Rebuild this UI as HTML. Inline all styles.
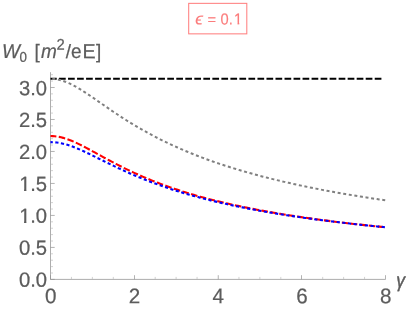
<!DOCTYPE html>
<html><head><meta charset="utf-8">
<style>
html,body{margin:0;padding:0;background:#fff;}
body{width:407px;height:310px;overflow:hidden;}
svg{display:block;will-change:transform;}
text{font-family:"Liberation Sans",sans-serif;}
</style></head>
<body>
<svg width="407" height="310" viewBox="0 0 407 310">
<rect width="407" height="310" fill="#fff"/>
<defs><clipPath id="one"><rect x="-1" y="-13" width="12" height="11.55"/><rect x="3.45" y="-1.6" width="1.8" height="1.9"/></clipPath><clipPath id="one2"><rect x="-1" y="-17" width="14" height="15.2"/><rect x="4.8" y="-2" width="2.35" height="2.4"/></clipPath></defs>
<!-- axes -->
<g stroke="#8a8a8a" stroke-width="0.7" fill="none">
<line x1="50.5" y1="279.4" x2="385.5" y2="279.4"/>
<line x1="50.5" y1="279.4" x2="50.5" y2="72.2"/>
</g>
<g stroke="#b4b4b4" stroke-width="0.6" fill="none">
<line x1="71.44" y1="279.4" x2="71.44" y2="276.9"/>
<line x1="92.38" y1="279.4" x2="92.38" y2="276.9"/>
<line x1="113.31" y1="279.4" x2="113.31" y2="276.9"/>
<line x1="155.19" y1="279.4" x2="155.19" y2="276.9"/>
<line x1="176.12" y1="279.4" x2="176.12" y2="276.9"/>
<line x1="197.06" y1="279.4" x2="197.06" y2="276.9"/>
<line x1="238.94" y1="279.4" x2="238.94" y2="276.9"/>
<line x1="259.88" y1="279.4" x2="259.88" y2="276.9"/>
<line x1="280.81" y1="279.4" x2="280.81" y2="276.9"/>
<line x1="322.69" y1="279.4" x2="322.69" y2="276.9"/>
<line x1="343.62" y1="279.4" x2="343.62" y2="276.9"/>
<line x1="364.56" y1="279.4" x2="364.56" y2="276.9"/>
<line x1="50.5" y1="273.00" x2="53.0" y2="273.00"/>
<line x1="50.5" y1="266.61" x2="53.0" y2="266.61"/>
<line x1="50.5" y1="260.21" x2="53.0" y2="260.21"/>
<line x1="50.5" y1="253.81" x2="53.0" y2="253.81"/>
<line x1="50.5" y1="241.02" x2="53.0" y2="241.02"/>
<line x1="50.5" y1="234.62" x2="53.0" y2="234.62"/>
<line x1="50.5" y1="228.22" x2="53.0" y2="228.22"/>
<line x1="50.5" y1="221.83" x2="53.0" y2="221.83"/>
<line x1="50.5" y1="209.03" x2="53.0" y2="209.03"/>
<line x1="50.5" y1="202.64" x2="53.0" y2="202.64"/>
<line x1="50.5" y1="196.24" x2="53.0" y2="196.24"/>
<line x1="50.5" y1="189.84" x2="53.0" y2="189.84"/>
<line x1="50.5" y1="177.05" x2="53.0" y2="177.05"/>
<line x1="50.5" y1="170.65" x2="53.0" y2="170.65"/>
<line x1="50.5" y1="164.25" x2="53.0" y2="164.25"/>
<line x1="50.5" y1="157.86" x2="53.0" y2="157.86"/>
<line x1="50.5" y1="145.06" x2="53.0" y2="145.06"/>
<line x1="50.5" y1="138.67" x2="53.0" y2="138.67"/>
<line x1="50.5" y1="132.27" x2="53.0" y2="132.27"/>
<line x1="50.5" y1="125.87" x2="53.0" y2="125.87"/>
<line x1="50.5" y1="113.08" x2="53.0" y2="113.08"/>
<line x1="50.5" y1="106.68" x2="53.0" y2="106.68"/>
<line x1="50.5" y1="100.28" x2="53.0" y2="100.28"/>
<line x1="50.5" y1="93.89" x2="53.0" y2="93.89"/>
<line x1="50.5" y1="81.09" x2="53.0" y2="81.09"/>
<line x1="50.5" y1="74.70" x2="53.0" y2="74.70"/>
</g>
<g stroke="#929292" stroke-width="0.7" fill="none">
<line x1="50.50" y1="279.4" x2="50.50" y2="275.2"/>
<line x1="134.50" y1="279.4" x2="134.50" y2="275.2"/>
<line x1="218.25" y1="279.4" x2="218.25" y2="275.2"/>
<line x1="301.50" y1="279.4" x2="301.50" y2="275.2"/>
<line x1="385.50" y1="279.4" x2="385.50" y2="275.2"/>
<line x1="50.5" y1="279.40" x2="54.7" y2="279.40"/>
<line x1="50.5" y1="247.41" x2="54.7" y2="247.41"/>
<line x1="50.5" y1="215.43" x2="54.7" y2="215.43"/>
<line x1="50.5" y1="183.44" x2="54.7" y2="183.44"/>
<line x1="50.5" y1="151.46" x2="54.7" y2="151.46"/>
<line x1="50.5" y1="119.47" x2="54.7" y2="119.47"/>
<line x1="50.5" y1="87.49" x2="54.7" y2="87.49"/>
</g>
<!-- curves -->
<path d="M50.5,78.85 L382,78.85" stroke="#000" stroke-width="2" stroke-dasharray="6.7 2.32" stroke-dashoffset="0.5" fill="none"/>
<path d="M50.50,78.80 L52.61,78.91 L54.71,79.09 L56.82,79.38 L58.93,79.79 L61.03,80.32 L63.14,80.95 L65.25,81.68 L67.36,82.52 L69.46,83.44 L71.57,84.44 L73.68,85.52 L75.78,86.67 L77.89,87.87 L80.00,89.14 L82.10,90.44 L84.21,91.79 L86.32,93.17 L88.42,94.58 L90.53,96.00 L92.64,97.45 L94.75,98.90 L96.85,100.36 L98.96,101.83 L101.07,103.30 L103.17,104.76 L105.28,106.22 L107.39,107.68 L109.49,109.12 L111.60,110.56 L113.71,111.98 L115.81,113.39 L117.92,114.79 L120.03,116.18 L122.14,117.54 L124.24,118.90 L126.35,120.23 L128.46,121.55 L130.56,122.85 L132.67,124.14 L134.78,125.41 L136.88,126.66 L138.99,127.89 L141.10,129.10 L143.20,130.30 L145.31,131.48 L147.42,132.65 L149.53,133.80 L151.63,134.93 L153.74,136.04 L155.85,137.14 L157.95,138.22 L160.06,139.28 L162.17,140.33 L164.27,141.36 L166.38,142.38 L168.49,143.38 L170.59,144.37 L172.70,145.34 L174.81,146.30 L176.92,147.25 L179.02,148.18 L181.13,149.11 L183.24,150.01 L185.34,150.91 L187.45,151.79 L189.56,152.66 L191.66,153.52 L193.77,154.36 L195.88,155.20 L197.98,156.02 L200.09,156.83 L202.20,157.62 L204.31,158.41 L206.41,159.19 L208.52,159.95 L210.63,160.71 L212.73,161.45 L214.84,162.19 L216.95,162.91 L219.05,163.63 L221.16,164.34 L223.27,165.03 L225.37,165.72 L227.48,166.40 L229.59,167.07 L231.69,167.73 L233.80,168.38 L235.91,169.03 L238.02,169.66 L240.12,170.29 L242.23,170.91 L244.34,171.53 L246.44,172.13 L248.55,172.73 L250.66,173.32 L252.76,173.90 L254.87,174.48 L256.98,175.05 L259.08,175.61 L261.19,176.17 L263.30,176.72 L265.41,177.26 L267.51,177.80 L269.62,178.33 L271.73,178.85 L273.83,179.37 L275.94,179.88 L278.05,180.39 L280.15,180.89 L282.26,181.39 L284.37,181.88 L286.47,182.36 L288.58,182.84 L290.69,183.32 L292.80,183.79 L294.90,184.25 L297.01,184.71 L299.12,185.16 L301.22,185.61 L303.33,186.06 L305.44,186.50 L307.54,186.93 L309.65,187.36 L311.76,187.79 L313.86,188.21 L315.97,188.63 L318.08,189.04 L320.19,189.45 L322.29,189.86 L324.40,190.26 L326.51,190.66 L328.61,191.05 L330.72,191.44 L332.83,191.83 L334.93,192.21 L337.04,192.59 L339.15,192.96 L341.25,193.33 L343.36,193.70 L345.47,194.07 L347.58,194.43 L349.68,194.79 L351.79,195.14 L353.90,195.48 L356.00,195.83 L358.11,196.17 L360.22,196.51 L362.32,196.84 L364.43,197.17 L366.54,197.50 L368.64,197.82 L370.75,198.15 L372.86,198.47 L374.97,198.78 L377.07,199.10 L379.18,199.41 L381.29,199.72 L383.39,200.02 L385.50,200.33" stroke="#808080" stroke-width="2" stroke-dasharray="3 2.646" stroke-dashoffset="3.876" fill="none"/>
<path d="M50.50,136.02 L52.61,136.10 L54.71,136.26 L56.82,136.51 L58.93,136.87 L61.03,137.32 L63.14,137.86 L65.25,138.48 L67.36,139.18 L69.46,139.95 L71.57,140.78 L73.68,141.67 L75.78,142.62 L77.89,143.60 L80.00,144.63 L82.10,145.69 L84.21,146.78 L86.32,147.88 L88.42,149.01 L90.53,150.15 L92.64,151.30 L94.75,152.45 L96.85,153.61 L98.96,154.77 L101.07,155.93 L103.17,157.08 L105.28,158.23 L107.39,159.37 L109.49,160.50 L111.60,161.62 L113.71,162.73 L115.81,163.83 L117.92,164.92 L120.03,165.99 L122.14,167.05 L124.24,168.10 L126.35,169.13 L128.46,170.15 L130.56,171.15 L132.67,172.14 L134.78,173.11 L136.88,174.07 L138.99,175.01 L141.10,175.94 L143.20,176.86 L145.31,177.75 L147.42,178.64 L149.53,179.51 L151.63,180.37 L153.74,181.21 L155.85,182.04 L157.95,182.85 L160.06,183.65 L162.17,184.44 L164.27,185.22 L166.38,185.98 L168.49,186.73 L170.59,187.47 L172.70,188.19 L174.81,188.91 L176.92,189.61 L179.02,190.30 L181.13,190.98 L183.24,191.65 L185.34,192.31 L187.45,192.96 L189.56,193.59 L191.66,194.22 L193.77,194.84 L195.88,195.45 L197.98,196.05 L200.09,196.64 L202.20,197.22 L204.31,197.79 L206.41,198.35 L208.52,198.91 L210.63,199.46 L212.73,200.00 L214.84,200.53 L216.95,201.05 L219.05,201.57 L221.16,202.07 L223.27,202.57 L225.37,203.07 L227.48,203.56 L229.59,204.04 L231.69,204.51 L233.80,204.98 L235.91,205.44 L238.02,205.89 L240.12,206.34 L242.23,206.78 L244.34,207.22 L246.44,207.65 L248.55,208.07 L250.66,208.49 L252.76,208.90 L254.87,209.31 L256.98,209.71 L259.08,210.11 L261.19,210.50 L263.30,210.89 L265.41,211.28 L267.51,211.65 L269.62,212.03 L271.73,212.40 L273.83,212.76 L275.94,213.12 L278.05,213.48 L280.15,213.83 L282.26,214.17 L284.37,214.52 L286.47,214.86 L288.58,215.19 L290.69,215.52 L292.80,215.85 L294.90,216.17 L297.01,216.49 L299.12,216.81 L301.22,217.12 L303.33,217.43 L305.44,217.74 L307.54,218.04 L309.65,218.34 L311.76,218.63 L313.86,218.93 L315.97,219.22 L318.08,219.50 L320.19,219.79 L322.29,220.07 L324.40,220.34 L326.51,220.62 L328.61,220.89 L330.72,221.16 L332.83,221.42 L334.93,221.69 L337.04,221.95 L339.15,222.21 L341.25,222.46 L343.36,222.71 L345.47,222.96 L347.58,223.21 L349.68,223.46 L351.79,223.70 L353.90,223.94 L356.00,224.18 L358.11,224.41 L360.22,224.65 L362.32,224.88 L364.43,225.11 L366.54,225.34 L368.64,225.56 L370.75,225.78 L372.86,226.00 L374.97,226.22 L377.07,226.44 L379.18,226.65 L381.29,226.87 L383.39,227.08 L385.50,227.29" stroke="#f00" stroke-width="2.1" stroke-dasharray="6.6 2.434" stroke-dashoffset="0.71" fill="none"/>
<path d="M50.50,142.10 L52.61,142.18 L54.71,142.31 L56.82,142.53 L58.93,142.84 L61.03,143.23 L63.14,143.70 L65.25,144.24 L67.36,144.85 L69.46,145.52 L71.57,146.25 L73.68,147.03 L75.78,147.86 L77.89,148.73 L80.00,149.63 L82.10,150.57 L84.21,151.53 L86.32,152.52 L88.42,153.52 L90.53,154.54 L92.64,155.57 L94.75,156.60 L96.85,157.64 L98.96,158.69 L101.07,159.73 L103.17,160.78 L105.28,161.82 L107.39,162.86 L109.49,163.89 L111.60,164.91 L113.71,165.92 L115.81,166.93 L117.92,167.93 L120.03,168.91 L122.14,169.89 L124.24,170.85 L126.35,171.80 L128.46,172.74 L130.56,173.67 L132.67,174.59 L134.78,175.49 L136.88,176.38 L138.99,177.26 L141.10,178.12 L143.20,178.97 L145.31,179.81 L147.42,180.64 L149.53,181.46 L151.63,182.26 L153.74,183.05 L155.85,183.83 L157.95,184.59 L160.06,185.35 L162.17,186.09 L164.27,186.82 L166.38,187.54 L168.49,188.25 L170.59,188.95 L172.70,189.63 L174.81,190.31 L176.92,190.98 L179.02,191.63 L181.13,192.28 L183.24,192.91 L185.34,193.54 L187.45,194.16 L189.56,194.76 L191.66,195.36 L193.77,195.95 L195.88,196.53 L197.98,197.10 L200.09,197.67 L202.20,198.22 L204.31,198.77 L206.41,199.31 L208.52,199.84 L210.63,200.36 L212.73,200.88 L214.84,201.39 L216.95,201.89 L219.05,202.39 L221.16,202.87 L223.27,203.35 L225.37,203.83 L227.48,204.30 L229.59,204.76 L231.69,205.21 L233.80,205.66 L235.91,206.10 L238.02,206.54 L240.12,206.97 L242.23,207.40 L244.34,207.82 L246.44,208.23 L248.55,208.64 L250.66,209.05 L252.76,209.44 L254.87,209.84 L256.98,210.23 L259.08,210.61 L261.19,210.99 L263.30,211.36 L265.41,211.73 L267.51,212.10 L269.62,212.46 L271.73,212.81 L273.83,213.17 L275.94,213.51 L278.05,213.86 L280.15,214.20 L282.26,214.53 L284.37,214.87 L286.47,215.19 L288.58,215.52 L290.69,215.84 L292.80,216.15 L294.90,216.47 L297.01,216.78 L299.12,217.08 L301.22,217.39 L303.33,217.69 L305.44,217.98 L307.54,218.28 L309.65,218.57 L311.76,218.85 L313.86,219.14 L315.97,219.42 L318.08,219.69 L320.19,219.97 L322.29,220.24 L324.40,220.51 L326.51,220.78 L328.61,221.04 L330.72,221.30 L332.83,221.56 L334.93,221.81 L337.04,222.07 L339.15,222.32 L341.25,222.57 L343.36,222.81 L345.47,223.05 L347.58,223.29 L349.68,223.53 L351.79,223.77 L353.90,224.00 L356.00,224.23 L358.11,224.46 L360.22,224.69 L362.32,224.92 L364.43,225.14 L366.54,225.36 L368.64,225.58 L370.75,225.80 L372.86,226.01 L374.97,226.22 L377.07,226.43 L379.18,226.64 L381.29,226.85 L383.39,227.06 L385.50,227.26" stroke="#00f" stroke-width="2.1" stroke-dasharray="3.2 2.46" stroke-dashoffset="0.85" fill="none"/>
<!-- labels -->
<g fill="#5c5c5c" stroke="#5c5c5c" stroke-width="0.22">
<text transform="translate(47.00,286.75) rotate(0.03) scale(1.0,1.02)" font-size="20.2px" text-anchor="end">0.0</text>
<text transform="translate(47.00,254.81) rotate(0.03) scale(1.0,1.02)" font-size="20.2px" text-anchor="end">0.5</text>
<text transform="translate(47.00,222.88) rotate(0.03) scale(1.0,1.02)" font-size="20.2px" text-anchor="end">.0</text>
<text transform="translate(19.25,222.88) rotate(0.03) scale(1.0,1.02)" font-size="20.2px" clip-path="url(#one2)">1</text>
<text transform="translate(47.00,190.94) rotate(0.03) scale(1.0,1.02)" font-size="20.2px" text-anchor="end">.5</text>
<text transform="translate(19.25,190.94) rotate(0.03) scale(1.0,1.02)" font-size="20.2px" clip-path="url(#one2)">1</text>
<text transform="translate(47.00,159.01) rotate(0.03) scale(1.0,1.02)" font-size="20.2px" text-anchor="end">2.0</text>
<text transform="translate(47.00,127.08) rotate(0.03) scale(1.0,1.02)" font-size="20.2px" text-anchor="end">2.5</text>
<text transform="translate(47.00,95.14) rotate(0.03) scale(1.0,1.02)" font-size="20.2px" text-anchor="end">3.0</text>
<text transform="translate(50.70,303.20) rotate(0.03) scale(1.0,1.03)" font-size="20.6px" text-anchor="middle">0</text>
<text transform="translate(134.45,303.20) rotate(0.03) scale(1.0,1.03)" font-size="20.6px" text-anchor="middle">2</text>
<text transform="translate(218.20,303.20) rotate(0.03) scale(1.0,1.03)" font-size="20.6px" text-anchor="middle">4</text>
<text transform="translate(301.95,303.20) rotate(0.03) scale(1.0,1.03)" font-size="20.6px" text-anchor="middle">6</text>
<text transform="translate(385.70,303.20) rotate(0.03) scale(1.0,1.03)" font-size="20.6px" text-anchor="middle">8</text>
<text transform="translate(396.20,287.10) rotate(0.03) scale(0.87,1.0)" font-size="20px" font-style="italic" stroke-width="0.45">γ</text>
<text transform="translate(1.95,58.10) rotate(0.03) scale(1.0,1.05)" font-size="19px" font-style="italic">W</text>
<text transform="translate(19.40,61.70) rotate(0.03) scale(1.0,1.05)" font-size="13.4px">0</text>
<text transform="translate(34.55,58.20) rotate(0.03) scale(1.0,1.04)" font-size="19px">[</text>
<text transform="translate(41.10,58.10) rotate(0.03) scale(1.0,1.05)" font-size="19px" font-style="italic">m</text>
<text transform="translate(56.50,49.65) rotate(0.03) scale(1.0,1.05)" font-size="14.8px">2</text>
<text transform="translate(65.80,58.10) rotate(0.03) scale(1.0,1.01)" font-size="19px">/</text>
<text transform="translate(71.10,58.10) rotate(0.03) scale(1.0,1.05)" font-size="19px">e</text>
<text transform="translate(82.60,58.30) rotate(0.03) scale(1.035,1.08)" font-size="19px">E</text>
<text transform="translate(96.10,58.20) rotate(0.03) scale(1.0,1.04)" font-size="19px">]</text>
</g>
<!-- legend box -->
<rect x="188.7" y="3.35" width="58.1" height="30.5" fill="#fff" stroke="#ff8080" stroke-width="1.05"/>
<g fill="#fb7c7c" stroke="#fb7c7c" stroke-width="0.15">
<text transform="translate(195.20,24.40) rotate(0.03) scale(1.04,1.0)" font-size="16.8px" font-style="italic">ϵ</text>
<text transform="translate(207.40,24.55) rotate(0.03) scale(1.0,1.0)" font-size="14.7px">=</text>
<text transform="translate(220.60,24.40) rotate(0.03) scale(1.0,1.08)" font-size="14.7px">0.</text>
<text transform="translate(234.05,24.40) rotate(0.03) scale(1.0,1.08)" font-size="14.7px" clip-path="url(#one)">1</text>
</g>
</svg>
</body></html>
